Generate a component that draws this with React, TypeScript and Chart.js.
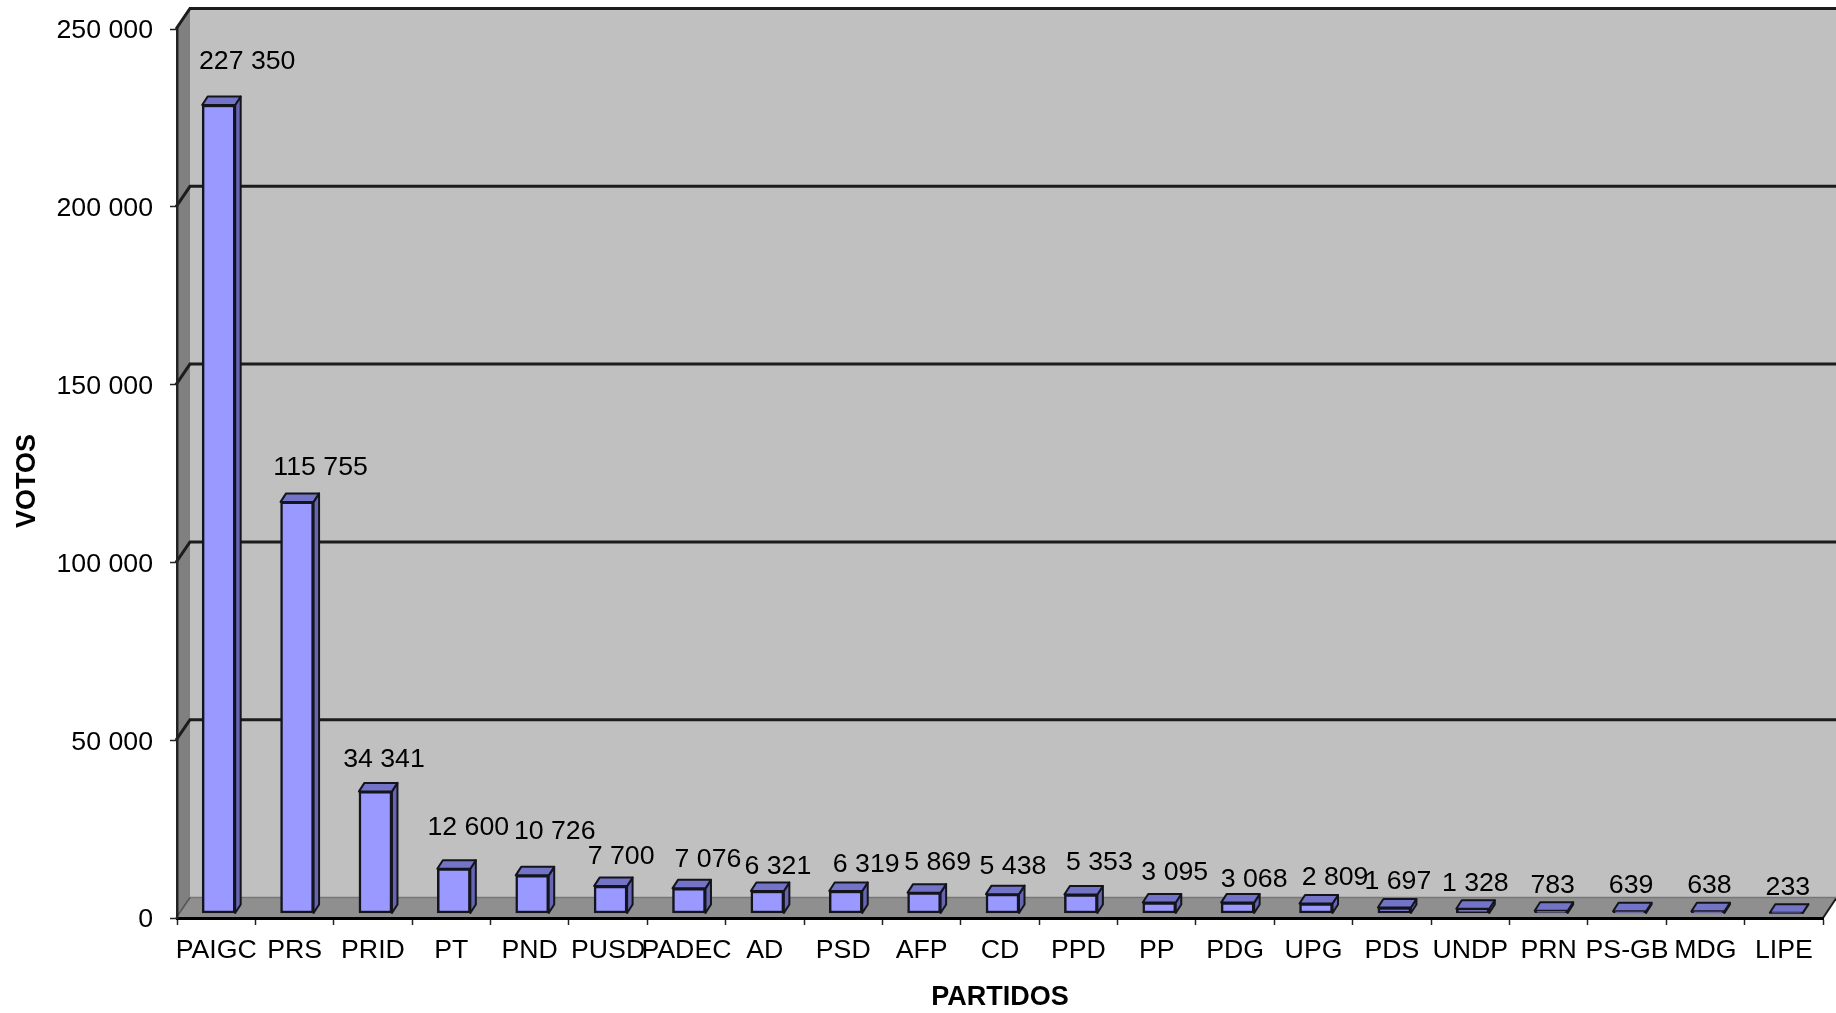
import React, { useEffect, useRef } from "react";
import { Chart, registerables } from "chart.js";

Chart.register(...registerables);

const parties = ["PAIGC","PRS","PRID","PT","PND","PUSD","PADEC","AD","PSD","AFP","CD","PPD","PP","PDG","UPG","PDS","UNDP","PRN","PS-GB","MDG","LIPE"];
const votes = [227350,115755,34341,12600,10726,7700,7076,6321,6319,5869,5438,5353,3095,3068,2809,1697,1328,783,639,638,233];
const yTicksMax = 250000;
const yTicksStep = 50000;
// hand-placed value label nudges of the original chart
const labelNudgeX = [31,26,11,17,25,13,21.5,13,23,16,13,21,18,19,21.5,6,5,4,4,4,4];
const labelNudgeY = [-47.9,-39.1,-36.7,-46,-48.7,-33.7,-32.8,-29.2,-31.3,-34,-31.7,-36,-34,-27.8,-30.8,-30.8,-29.8,-29.7,-29.7,-29.7,-29.7];

const FONT = '"Liberation Sans", Arial, sans-serif';
const fmt = (v: number) => String(v).replace(/\B(?=(\d{3})+(?!\d))/g, " ");

const depthX = 14, depthY = 20.5;
const barShiftX = 2.5, barShiftY = -4.5;
const barDepthX = 5.5, barDepthY = 8.5;

function poly(ctx: CanvasRenderingContext2D, pts: number[][], fill?: string, stroke?: string, lw = 1) {
  ctx.beginPath();
  pts.forEach((p, i) => (i ? ctx.lineTo(p[0], p[1]) : ctx.moveTo(p[0], p[1])));
  ctx.closePath();
  if (fill) { ctx.fillStyle = fill; ctx.fill(); }
  if (stroke) { ctx.strokeStyle = stroke; ctx.lineWidth = lw; ctx.lineJoin = "round"; ctx.stroke(); }
}

const walls3d = {
  id: "walls3d",
  beforeDraw(chart: any) {
    const { ctx, scales, width } = chart;
    const { x, y } = scales;
    const L = x.left - 1, R = x.right, T = y.getPixelForValue(yTicksMax), B = y.getPixelForValue(0);
    ctx.save();
    poly(ctx, [[L + depthX, T - depthY], [width, T - depthY], [width, B - depthY], [L + depthX, B - depthY]], "#C0C0C0");
    poly(ctx, [[L, T], [L + depthX, T - depthY], [L + depthX, B - depthY], [L, B]], "#808080");
    poly(ctx, [[L, B], [L + depthX, B - depthY], [width, B - depthY], [R, B]], "#8F8F8F");
    ctx.strokeStyle = "#777777"; ctx.lineWidth = 1.5;
    ctx.beginPath(); ctx.moveTo(L + depthX, B - depthY); ctx.lineTo(width, B - depthY); ctx.stroke();
    ctx.strokeStyle = "#1c1c1c"; ctx.lineWidth = 3;
    for (const t of y.ticks) {
      if (t.value === 0) continue;
      const py = y.getPixelForValue(t.value);
      ctx.beginPath(); ctx.moveTo(L, py); ctx.lineTo(L + depthX, py - depthY); ctx.lineTo(width, py - depthY); ctx.stroke();
    }
    ctx.lineWidth = 1.5; ctx.strokeStyle = "#555555";
    ctx.beginPath(); ctx.moveTo(L, B); ctx.lineTo(L + depthX, B - depthY); ctx.stroke();
    ctx.lineWidth = 2; ctx.strokeStyle = "#1c1c1c";
    ctx.beginPath(); ctx.moveTo(R, B); ctx.lineTo(width, B - depthY + 1); ctx.stroke();
    ctx.restore();
  },
  beforeDatasetDraw(chart: any) {
    const { ctx } = chart;
    ctx.save();
    ctx.translate(barShiftX, barShiftY);
    for (const el of chart.getDatasetMeta(0).data) {
      const r = el.x + el.width / 2, l = el.x - el.width / 2, t = el.y, b = el.base;
      const dx = barDepthX, dy = barDepthY;
      poly(ctx, [[r, t], [r + dx, t - dy], [r + dx, b - dy], [r, b]], "#6666B3", "#14141c", 2);
      poly(ctx, [[l, t], [l + dx, t - dy], [r + dx, t - dy], [r, t]], "#7373C8", "#14141c", 2);
    }
  },
  afterDatasetDraw(chart: any) {
    chart.ctx.restore();
  },
  afterDatasetsDraw(chart: any) {
    const { ctx, scales } = chart;
    ctx.save();
    ctx.fillStyle = "#000";
    ctx.font = `26.7px ${FONT}`;
    ctx.textAlign = "center";
    ctx.textBaseline = "middle";
    chart.getDatasetMeta(0).data.forEach((el: any, i: number) => {
      const cx = scales.x.getPixelForValue(i);
      ctx.fillText(fmt(votes[i]), cx + labelNudgeX[i], el.y + labelNudgeY[i]);
    });
    ctx.font = `bold 27px ${FONT}`;
    ctx.translate(28, 481);
    ctx.rotate(-Math.PI / 2);
    ctx.fillText("VOTOS", 0, 0);
    ctx.restore();
  },
};

export default function App() {
  const ref = useRef<HTMLCanvasElement>(null);
  useEffect(() => {
    document.body.style.margin = "0";
    document.body.style.background = "#fff";
    const chart = new Chart(ref.current!, {
      type: "bar",
      plugins: [walls3d],
      data: {
        labels: parties,
        datasets: [{
          label: "VOTOS",
          data: votes,
          backgroundColor: "#9999FF",
          borderColor: "#14141c",
          borderWidth: 2.5,
          borderSkipped: false,
          barThickness: 33,
          clip: false,
        }],
      },
      options: {
        animation: false,
        responsive: false,
        devicePixelRatio: 1,
        layout: { padding: { top: 29, right: 13, left: 0, bottom: 0 } },
        plugins: { legend: { display: false }, tooltip: { enabled: false }, title: { display: false } },
        scales: {
          x: {
            afterFit: (s: any) => { s.height = 95; s.paddingLeft = 0; s.paddingRight = 0; },
            border: { color: "#000", width: 3 },
            grid: { drawOnChartArea: false, drawTicks: true, tickLength: 7, tickColor: "#222", tickWidth: 1.5 },
            ticks: { color: "#000", font: { family: FONT, size: 26.7 }, autoSkip: false, minRotation: 0, maxRotation: 0, padding: 10 },
            title: { display: true, text: "PARTIDOS", color: "#000", font: { family: FONT, size: 27, weight: "bold" }, padding: { top: 8, bottom: -1 } },
          },
          y: {
            min: 0,
            max: yTicksMax,
            afterFit: (s: any) => { s.width = 177; s.paddingTop = 0; s.paddingBottom = 0; },
            border: { color: "#222", width: 2.5 },
            grid: { drawOnChartArea: false, drawTicks: true, tickLength: 7, tickColor: "#222", tickWidth: 1.5 },
            ticks: { color: "#000", font: { family: FONT, size: 26.7 }, stepSize: yTicksStep, padding: 17, labelOffset: 2, callback: (v: any) => fmt(Number(v)) },
          },
        },
      } as any,
    });
    return () => chart.destroy();
  }, []);
  return <canvas ref={ref} width={1836} height={1013} style={{ position: "fixed", left: 0, top: 0, width: 1836, height: 1013, display: "block", filter: "blur(0.5px)" }} />;
}
